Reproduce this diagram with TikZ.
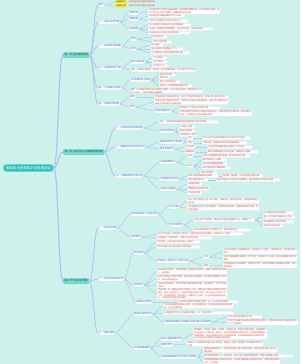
\documentclass[tikz,border=0pt]{standalone}
\usepackage{fontspec}
\newfontfamily\cjk{Noto Sans CJK SC}
\XeTeXlinebreaklocale "zh"
\XeTeXlinebreakskip = 0pt plus 0.5pt
\definecolor{bg}{HTML}{CFF1EC}
\definecolor{rootc}{HTML}{2EC4B6}
\definecolor{lone}{HTML}{74DCCF}
\definecolor{connc}{HTML}{A9C6EE}
\definecolor{bluet}{HTML}{3C62C8}
\definecolor{redt}{HTML}{E0453A}
\definecolor{bord}{HTML}{BCD3F3}
\definecolor{hly}{HTML}{FFE83D}
\tikzset{
  rootbox/.style={anchor=west,fill=rootc,draw=rootc!70!white,line width=0.6pt,rounded corners=3pt,text=white,font=\cjk\fontsize{3.4}{4}\selectfont,minimum width=50pt,minimum height=7pt,inner sep=1pt},
  onebox/.style={anchor=west,fill=lone,draw=rootc!80!white,line width=0.3pt,rounded corners=2pt,text=black!75,font=\cjk\fontsize{2.5}{3}\selectfont,minimum height=5.5pt,inner xsep=1.5pt,inner ysep=0.5pt},
  twobox/.style={anchor=west,fill=white,draw=bord,line width=0.3pt,rounded corners=1.2pt,text=bluet,font=\cjk\fontsize{2.2}{2.7}\selectfont,minimum height=3.8pt,inner xsep=1pt,inner ysep=0.4pt},
  leaf/.style={anchor=west,fill=white,draw=bord!60!white,line width=0.2pt,rounded corners=1pt,text=redt,font=\cjk\fontsize{2}{2.7}\selectfont,align=left,inner xsep=1pt,inner ysep=0.4pt,minimum height=3.4pt},
  hlbox/.style={anchor=west,fill=hly,rounded corners=0.6pt,text=black!80,font=\cjk\fontsize{2}{2.7}\selectfont,inner xsep=1pt,inner ysep=0.4pt,minimum height=3.4pt},
  plaintxt/.style={anchor=west,text=redt,font=\cjk\fontsize{2}{2.7}\selectfont,inner xsep=1pt,inner ysep=0.4pt},
  conn/.style={draw=connc,line width=0.45pt},
  connb/.style={draw=connc,line width=1.2pt},
  connm/.style={draw=connc,line width=0.8pt}
}
\newcommand\Lf[5]{\node[leaf,text width=#4pt] (#1) at (#2,#3) {#5};}
\newcommand\Bx[4]{\node[twobox] (#1) at (#2,#3) {#4};}
\newcommand\Cn[3][3]{\draw[conn] (#2.east) .. controls +(#1,0) and +(-#1,0) .. (#3.west);}
\newcommand\bl[1]{\textcolor{bluet}{#1}}
\begin{document}
\begin{tikzpicture}[x=1pt,y=-1pt]
\fill[bg] (0,0) rectangle (300,364);
\useasboundingbox (0,0) rectangle (300,364);
% root and level one
\node[rootbox] (R) at (3,168) {第四章 光现象知识点梳理总结};
\node[onebox] (A) at (63,55) {第一节 光的直线传播};
\node[onebox] (B) at (63,152) {第二节 光的反射与平面镜成像规律};
\node[onebox] (C) at (63,281) {第三节 光的折射现象};
\draw[connb] (R.east) .. controls +(5,0) and +(-5,0) .. (A.west);
\draw[connb] (R.east) .. controls +(5,0) and +(-5,0) .. (B.west);
\draw[connb] (R.east) .. controls +(5,0) and +(-5,0) .. (C.west);
% ===== A =====
\Bx{A1}{98}{5}{概念}
\Bx{A2}{98}{22}{一、光源与光的传播}
\Bx{A3}{98}{46}{二、光的直线传播现象}
\Bx{A4}{98}{68}{三、光速及其相关计算}
\Bx{A5}{98}{88}{四、小孔成像实验探究}
\Bx{A6}{98}{104}{五、日食和月食成因}
\foreach \t in {A1,A2,A3,A4,A5,A6}{\draw[connm] (A.east) .. controls +(4,0) and +(-4,0) .. (\t.west);}
\node[hlbox] (a1a) at (115,2) {光源的定义};
\node[plaintxt] at (a1a.east) {自身能够发光的物体叫做光源};
\node[hlbox] (a1b) at (115,6) {光源的分类};
\node[plaintxt] at (a1b.east) {光源分为天然光源和人造光源};
\Cn{A1}{a1a}\Cn{A1}{a1b}
\Bx{A2a}{128}{13}{传播条件}
\Bx{A2b}{128}{19}{传播速度}
\Bx{A2c}{128}{29}{光线模型}
\Cn{A2}{A2a}\Cn{A2}{A2b}\Cn{A2}{A2c}
\Lf{a2a1}{148}{11.5}{70}{光在同种均匀介质中沿直线传播；光的传播不需要介质，可以在真空中传播；光在不均匀的介质中传播时，传播路径会发生弯曲。}
\Lf{a2b1}{148}{16}{35}{光在真空中传播速度最大约为三亿米}
\Lf{a2b2}{148}{21}{38}{光在水中的速度约为真空中四分之三}
\Lf{a2c1}{148}{25}{41}{用一条带箭头的直线表示光的传播路径}
\Lf{a2c2}{148}{29}{62}{光线是一种理想化的物理模型，实际并不存在，只用来描述光}
\Lf{a2c3}{148}{33}{40}{光线的箭头方向表示光的传播方向}
\Cn{A2a}{a2a1}\Cn{A2b}{a2b1}\Cn{A2b}{a2b2}\Cn{A2c}{a2c1}\Cn{A2c}{a2c2}\Cn{A2c}{a2c3}
\Bx{A3a}{130}{39}{实例}
\Bx{A3b}{130}{49}{应用}
\Cn{A3}{A3a}\Cn{A3}{A3b}
\Lf{a3a1}{152}{37}{13}{影子的形成}
\Lf{a3a2}{152}{42}{18}{日食与月食现象}
\Lf{a3b1}{150}{45}{11}{激光准直}
\Lf{a3b2}{150}{49}{31}{排队时前后对齐要看前一个人}
\Lf{a3b3}{150}{53}{38}{小孔成像是光沿直线传播的典型应用}
\Cn{A3a}{a3a1}\Cn{A3a}{a3a2}\Cn{A3b}{a3b1}\Cn{A3b}{a3b2}\Cn{A3b}{a3b3}
\Bx{A4a}{130}{62}{真空中的光速}
\node[twobox,font=\cjk\fontsize{2}{2.7}\selectfont] (A4b) at (130,70) {光年：\textcolor{redt}{光年是长度单位，指光在一年内传播的距离，约九点四六万亿千米}};
\Cn{A4}{A4a}\Cn{A4}{A4b}
\Lf{a4a1}{152}{58}{13}{三亿米每秒}
\Lf{a4a2}{152}{62}{13}{空气中近似}
\Lf{a4a3}{152}{66}{13}{水中四分之三}
\Cn{A4a}{a4a1}\Cn{A4a}{a4a2}\Cn{A4a}{a4a3}
\Bx{A5a}{129}{80}{小孔成像的特点规律}
\node[twobox,font=\cjk\fontsize{2}{2.7}\selectfont,text width=72pt,align=left] (A5b) at (129,91) {注意：\textcolor{redt}{小孔成像中像的形状与物体形状相同，与小孔的形状无关；像的亮度与小孔的大小有关，孔越大像越亮但越模糊}};
\Cn{A5}{A5a}\Cn{A5}{A5b}
\Lf{a5a1}{159}{75}{14}{成倒立的实像}
\Lf{a5a2}{159}{78}{8}{像的形状}
\Lf{a5a3}{159}{82}{19}{像与孔的形状无关}
\Lf{a5a4}{159}{86}{31}{像的大小与物距和像距都有关系}
\Cn{A5a}{a5a1}\Cn{A5a}{a5a2}\Cn{A5a}{a5a3}\Cn{A5a}{a5a4}
\Bx{A6a}{129}{97}{日食}
\Bx{A6b}{129}{107}{月食}
\Cn{A6}{A6a}\Cn{A6}{A6b}
\Lf{a6a1}{154}{97}{72}{月球运动到太阳和地球中间，挡住了太阳射向地球的光，地球上的人看不到太阳}
\Lf{a6b1}{154}{102}{72}{地球运动到太阳和月球中间，太阳射向月球的光被地球挡住，地球上的人看不到月球或只能看到部分月球的现象}
\Bx{A6b3}{154}{111}{月食的成因分析}
\Cn{A6a}{a6a1}\Cn{A6b}{a6b1}\Cn{A6b}{A6b3}
\Lf{a6c1}{179}{108}{39}{地球挡住了太阳射向月球的光线}
\Lf{a6c2}{179}{113.5}{71}{月食只能发生在农历十五前后的满月时刻，日食只能发生在农历初一前后的新月时刻，二者都是光沿直线传播形成的}
\Cn{A6b3}{a6c1}\Cn{A6b3}{a6c2}
% ===== B =====
\Bx{B1}{115}{128}{一、光的反射现象及其定律}
\Bx{B2}{115}{147}{二、镜面反射和漫反射的区别}
\Bx{B3}{115}{176}{三、平面镜成像特点及应用}
\foreach \t in {B1,B2,B3}{\draw[connm] (B.east) .. controls +(4,0) and +(-4,0) .. (\t.west);}
\Lf{b1l}{159}{122}{57}{\bl{定义：}光射到物体表面时被反射回原来介质中的现象}
\Bx{B1b}{159}{131}{光的反射定律}
\Cn{B1}{b1l}\Cn{B1}{B1b}
\Lf{b1b1}{179}{127}{14}{三线同一平面}
\Lf{b1b2}{179}{131}{14}{两线分居两侧}
\Lf{b1b3}{179}{135}{16}{反射角等于入射角}
\Cn{B1b}{b1b1}\Cn{B1b}{b1b2}\Cn{B1b}{b1b3}
\Bx{B2a}{159}{142}{镜面反射的特点及实例}
\Bx{B2b}{159}{149}{漫反射的特点}
\Cn{B2}{B2a}\Cn{B2}{B2b}
\Lf{b2a1}{187}{138}{4}{特点}
\Lf{b2a2}{187}{143}{4}{实例}
\Lf{b2a1t}{202}{138}{46}{平行光射到光滑的表面后反射光线仍然平行射出}
\Lf{b2a2t}{202}{143}{43}{平静水面、平面镜以及抛光的金属表面等}
\Cn{B2a}{b2a1}\Cn{B2a}{b2a2}\Cn{b2a1}{b2a1t}\Cn{b2a2}{b2a2t}
\Lf{b2b1}{185}{147}{8}{特点说明}
\Lf{b2b2}{185}{152}{8}{遵循规律}
\Lf{b2b1t}{207}{147}{43}{平行光射到粗糙表面后向着各个方向反射}
\Lf{b2b2t}{207}{152}{49}{每条光线都遵循光的反射定律，镜面反射也遵循}
\Cn{B2b}{b2b1}\Cn{B2b}{b2b2}\Cn{b2b1}{b2b1t}\Cn{b2b2}{b2b2t}
\Bx{B3a}{159}{162}{平面镜成像特点}
\Bx{B3b}{159}{179}{平面镜的应用实例}
\Bx{B3c}{159}{189}{凸面镜与凹面镜}
\Cn{B3}{B3a}\Cn{B3}{B3b}\Cn{B3}{B3c}
\Lf{b3a1}{187}{156}{4}{实验}
\Lf{b3a2}{187}{166}{4}{结论}
\Cn{B3a}{b3a1}\Cn{B3a}{b3a2}
\Lf{b3a1t}{202}{156}{46}{实验中用玻璃板代替平面镜，便于确定像的位置}
\Cn{b3a1}{b3a1t}
\Lf{b3r1}{202}{160}{23}{像与物体的大小相等}
\Lf{b3r2}{202}{164}{23}{像与物到镜面距离相等}
\Lf{b3r3}{202}{168}{26}{像与物的连线与镜面垂直}
\Lf{b3r4}{200}{173}{15}{成正立的虚像}
\Cn{b3a2}{b3r1}\Cn{b3a2}{b3r2}\Cn{b3a2}{b3r3}\Cn{b3a2}{b3r4}
\Lf{b3b1}{187}{176}{29}{利用平面镜成像来改变视野}
\Lf{b3b2}{187}{180}{19}{改变光路传播方向}
\Lf{b3b1t}{222}{176}{39}{穿衣镜、潜望镜、汽车后视镜及牙医口镜}
\Lf{b3b2t}{216}{180}{62}{利用平面镜可以改变光的传播路线，例如潜望镜中的两块平面镜}
\Cn{B3b}{b3b1}\Cn{B3b}{b3b2}\Cn{b3b1}{b3b1t}\Cn{b3b2}{b3b2t}
\Lf{b3c1}{187}{184}{13}{凸面镜发散光}
\Lf{b3c2}{187}{189}{20}{凹面镜对光有会聚作用}
\Lf{b3c3}{187}{193}{13}{汽车的观后镜}
\Cn{B3c}{b3c1}\Cn{B3c}{b3c2}\Cn{B3c}{b3c3}
% ===== C =====
\Bx{C1}{98}{228}{一、光的折射现象}
\Bx{C2}{98}{279}{二、光的折射规律及实验}
\Bx{C3}{98}{333}{三、透镜与成像}
\foreach \t in {C1,C2,C3}{\draw[connm] (C.east) .. controls +(4,0) and +(-4,0) .. (\t.west);}
\Bx{C1a}{130}{214}{折射现象的定义与常见实例}
\Bx{C1b}{130}{237}{注意事项}
\Cn{C1}{C1a}\Cn{C1}{C1b}
\Bx{C1a1}{168}{207}{定义内容}
\Bx{C1a2}{168}{225}{生活中的实例}
\Cn{C1a}{C1a1}\Cn{C1a}{C1a2}
\Lf{c1a11}{187}{201}{70}{光从一种介质斜射入另一种介质时，传播方向一般会发生改变，这种现象叫做光的折射}
\Lf{c1a12}{187}{208}{70}{光在同种不均匀的介质中传播时，也会发生折射现象，传播路径会发生弯曲，例如海市蜃楼}
\Cn{C1a1}{c1a11}\Cn{C1a1}{c1a12}
\Lf{c1a21}{193}{220}{60}{从岸上看水中的物体，看起来比实际的位置要浅一些，原因如下}
\Lf{c1a22}{193}{230}{56}{光的折射现象在生活中随处可见，要注意辨别区分}
\Cn{C1a2}{c1a21}\Cn{C1a2}{c1a22}
\Lf{k1}{263}{213}{28}{池水看起来比实际的要浅}
\Lf{k2}{263}{217}{30}{插入水中的筷子看起来向上弯折}
\Lf{k3}{263}{222}{28}{海市蜃楼是光的折射现象}
\Lf{k4}{263}{226}{18}{雨后天空出现彩虹}
\Cn{c1a21}{k1}\Cn{c1a21}{k2}\Cn{c1a21}{k3}\Cn{c1a21}{k4}
\Lf{c1b1}{157}{234}{84}{光从空气斜射入水或其他介质中时，折射光线向法线方向偏折，折射角小于入射角}
\Lf{c1b2}{157}{238}{53}{光垂直射入介质表面时，传播方向不发生改变}
\Cn{C1b}{c1b1}\Cn{C1b}{c1b2}
\Bx{C2a}{133}{253}{折射规律}
\Bx{C2b}{133}{285}{实验结论}
\Bx{C2c}{135}{302}{光路的可逆性质}
\Cn{C2}{C2a}\Cn{C2}{C2b}\Cn{C2}{C2c}
\Lf{c2a1}{156}{242}{42}{折射光线、入射光线与法线在同一平面内}
\Lf{c2a2}{156}{247}{42}{折射光线和入射光线分居在法线的两侧}
\Bx{C2a3}{156}{261}{折射角与入射角的大小关系分析}
\Cn{C2a}{c2a1}\Cn{C2a}{c2a2}\Cn{C2a}{C2a3}
\Lf{lab1}{203}{257}{4}{斜射}
\Lf{lab2}{203}{266}{4}{垂直}
\Cn{C2a3}{lab1}\Cn{C2a3}{lab2}
\Lf{t1}{223}{251.5}{72}{光从空气斜射入水或玻璃中时，折射角小于入射角；入射角增大时，折射角也随之增大}
\Lf{t2}{223}{258.5}{72}{光从水或玻璃等介质斜射入空气中时，折射角大于入射角，此时光线偏离法线方向偏折}
\Lf{t3}{223}{265.5}{72}{当光垂直射向介质表面时，传播方向不变，此时折射角和入射角都等于零度，属于特殊情况}
\Cn{lab1}{t1}\Cn{lab1}{t2}\Cn{lab2}{t3}
\Lf{c2b1}{157}{271.5}{68}{在光的折射现象中，折射角随着入射角的增大而增大，随着入射角的减小而减小，成正相关}
\Lf{c2b2}{157}{278.5}{68}{光从空气斜射入其他介质时，折射光线向法线偏折；光从其他介质斜射入空气时，折射光线远离法线}
\Lf{c2b3}{157}{285.5}{68}{在光的折射现象中，空气中的那个角总是较大的角，可以简记为“空气中的角总是大”}
\Lf{c2b4}{157}{294}{68}{实验步骤：将一束激光从空气中斜射入水中，观察光在水面处的传播方向变化情况；改变入射角的大小，观察折射角如何随之变化；再让光从水中斜射入空气中，比较两种情况下折射角与入射角的大小关系，并记录实验数据得出结论，实验结束后整理好实验器材}
\Cn{C2b}{c2b1}\Cn{C2b}{c2b2}\Cn{C2b}{c2b3}\Cn{C2b}{c2b4}
\Lf{c2c1}{177}{302}{59}{在光的折射现象中光路是可逆的，这一点与光的反射相同}
\Cn{C2c}{c2c1}
\Bx{C3a}{133}{314}{透镜的分类及特点}
\Bx{C3b}{133}{348}{凸透镜成像规律}
\Cn{C3}{C3a}\Cn{C3}{C3b}
\Lf{c3a1}{163}{306}{68}{中间厚边缘薄的透镜叫凸透镜，对光有会聚作用；中间薄边缘厚的透镜叫凹透镜，对光有发散作用}
\Lf{c3a2}{163}{313}{68}{凸透镜能使平行于主光轴的光会聚于一点，这点叫焦点}
\Bx{C3a3}{163}{322}{凸透镜和凹透镜三条特殊光线的作图方法及规律}
\Cn{C3a}{c3a1}\Cn{C3a}{c3a2}\Cn{C3a}{C3a3}
\Lf{c3a31}{227}{317}{33}{过光心的光线传播方向不变}
\Lf{c3a32}{227}{322.5}{69}{平行于主光轴的光线经凸透镜折射后过焦点，过焦点的光线经凸透镜折射后平行于主光轴射出}
\Cn{C3a3}{c3a31}\Cn{C3a3}{c3a32}
\Bx{C3b1}{160}{339}{探究凸透镜成像实验}
\Bx{C3b2}{160}{345}{成像的特点}
\Bx{C3b3}{160}{357}{凸透镜成像规律在生活中的应用实例}
\Cn{C3b}{C3b1}\Cn{C3b}{C3b2}\Cn{C3b}{C3b3}
\Lf{c3b1t}{193}{334}{72}{实验器材：光具座、蜡烛、凸透镜、光屏和火柴。实验时应调节烛焰、凸透镜和光屏三者的中心大致在同一高度上，目的是使像成在光屏的中央；然后改变蜡烛到凸透镜的距离，移动光屏直到光屏上出现清晰的像，记录物距和像距以及像的性质，多次实验后分析数据并总结得出成像规律}
\Lf{c3b2t}{187}{344}{74}{物距大于二倍焦距时成倒立缩小的实像；物距在一倍和二倍焦距之间时成倒立放大的实像}
\Cn{C3b1}{c3b1t}\Cn{C3b2}{c3b2t}
\Lf{c3b31}{203}{350}{72}{照相机利用物距大于二倍焦距时成倒立缩小实像的原理；投影仪利用成倒立放大实像的原理}
\Lf{c3b32}{203}{356}{88}{放大镜利用物距小于一倍焦距时，成正立放大虚像的原理制成，常用于观察细小物体}
\Lf{c3b33}{203}{361.5}{75}{近视眼需要佩戴凹透镜进行矫正，远视眼需要佩戴凸透镜进行矫正，眼睛的晶状体相当于一个凸透镜}
\Cn{C3b3}{c3b31}\Cn{C3b3}{c3b32}\Cn{C3b3}{c3b33}
\end{tikzpicture}
\end{document}
